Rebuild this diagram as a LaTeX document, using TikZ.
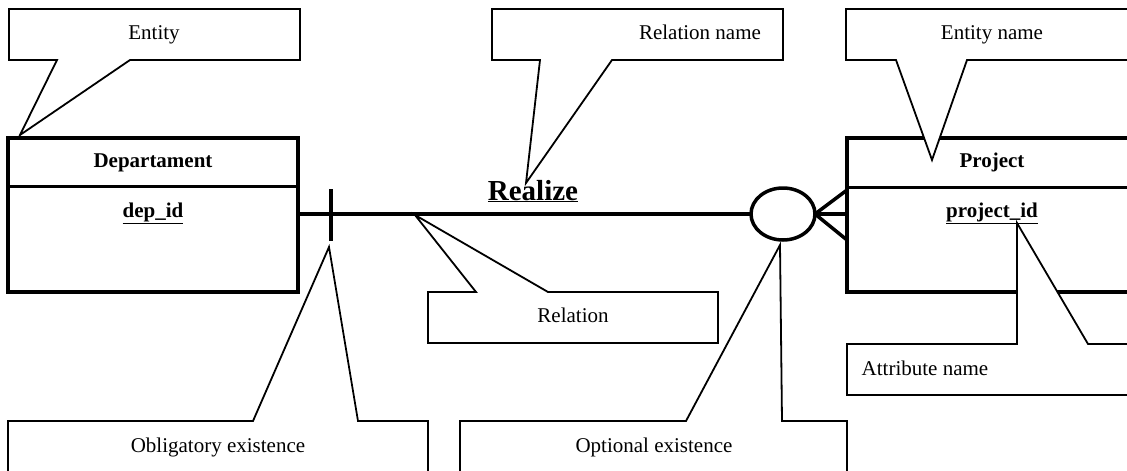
\documentclass[tikz,border=0pt]{standalone}
\usepackage{fontspec}
\setmainfont{Liberation Serif}
\usetikzlibrary{shapes.geometric}
\tikzset{
  ebox/.style={draw, line width=4pt, rectangle, fill=white, outer sep=0pt, inner sep=0pt},
  divider/.style={line width=3pt},
  relline/.style={line width=3.5pt},
  callout/.style={draw, fill=white, line width=1.8pt, line join=miter},
  note/.style={anchor=base, font=\fontsize{21}{25}\selectfont},
  title/.style={anchor=base, font=\fontsize{21}{25}\selectfont\bfseries},
}
\begin{document}
\begin{tikzpicture}[x=1pt, y=-1pt]
\useasboundingbox (0,0) rectangle (1127,471);
\clip (0,0) rectangle (1127,471);
\fill[white] (0,0) rectangle (1127,471);

% entities
\node[ebox, minimum width=290, minimum height=154] (dep) at (153,215) {};
\draw[divider] (dep.west |- 0,186) -- (dep.east |- 0,186);
\node[ebox, minimum width=300, minimum height=154] (prj) at (997,215) {};
\draw[divider] (prj.west |- 0,187) -- (1150,187);

% relation with optional / many end
\node[draw, ellipse, line width=3.5pt, minimum width=64, minimum height=52, inner sep=0pt, outer sep=0pt] (opt) at (783,214) {};
\draw[relline] (dep.east |- 0,214) -- (opt.west);
\draw[relline] (331,189) -- (331,241);
\draw[relline] (opt.east) -- (prj.west |- 0,190);
\draw[relline] (opt.east) -- (prj.west |- 0,214);
\draw[relline] (opt.east) -- (prj.west |- 0,240);

% callouts
\draw[callout] (9,9) -- (300,9) -- (300,60) -- (130,60) -- (20,135) -- (57,60) -- (9,60) -- cycle;
\draw[callout] (492,9) -- (783,9) -- (783,60) -- (612,60) -- (526,183) -- (540,60) -- (492,60) -- cycle;
\draw[callout] (846,9) -- (1140,9) -- (1140,60) -- (967,60) -- (932,160) -- (896,60) -- (846,60) -- cycle;
\draw[callout] (428,292) -- (476,292) -- (415,215) -- (548,292) -- (718,292) -- (718,343) -- (428,343) -- cycle;
\draw[callout] (847,344) -- (1017,344) -- (1017,223) -- (1088,344) -- (1140,344) -- (1140,395) -- (847,395) -- cycle;
\draw[callout] (8,421) -- (253,421) -- (329,247) -- (358,421) -- (428,421) -- (428,480) -- (8,480) -- cycle;
\draw[callout] (460,421) -- (686,421) -- (780,245) -- (782,421) -- (847,421) -- (847,480) -- (460,480) -- cycle;

% texts
\node[title] (depname) at (153,167) {Departament};
\node[title] (depid) at (153,217) {\underline{dep\_id}};
\node[title] (prjname) at (992,167) {Project};
\node[title] (prjid) at (992,217) {\underline{project\_id}};
\node[anchor=base, font=\fontsize{29}{34}\selectfont\bfseries] (rname) at (533,200) {\underline{Realize}};

\node[note] (tEntity) at (154,39) {Entity};
\node[note] (tRelName) at (700,39) {Relation name};
\node[note] (tEntName) at (992,39) {Entity name};
\node[note] (tRel) at (573,322) {Relation};
\node[note] (tAttr) at (925,375) {Attribute name};
\node[note] (tObl) at (218,452) {Obligatory existence};
\node[note] (tOpt) at (654,452) {Optional existence};
\end{tikzpicture}
\end{document}
